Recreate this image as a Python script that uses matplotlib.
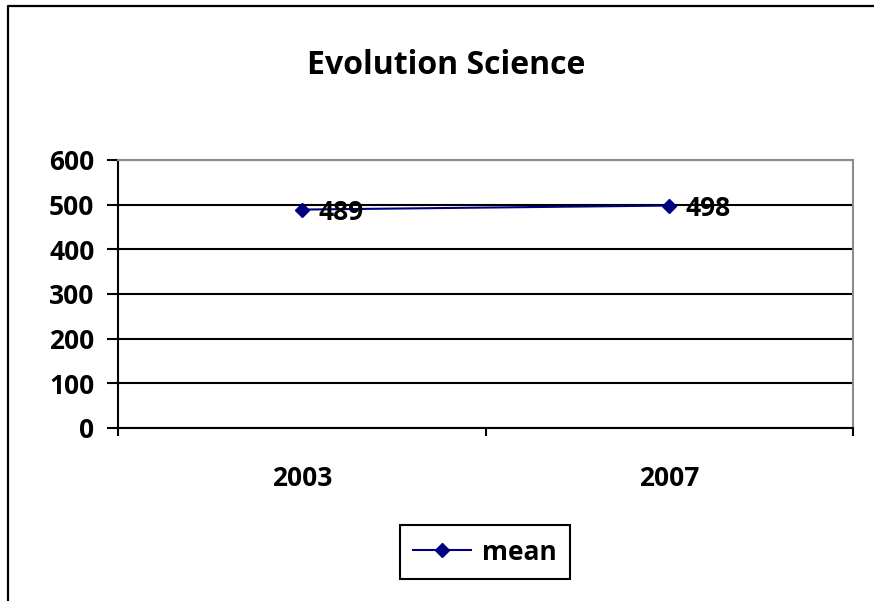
import matplotlib
matplotlib.use("Agg")
import matplotlib.pyplot as plt
from matplotlib.lines import Line2D

plt.rcParams['font.family'] = ['Open Sans', 'DejaVu Sans']

years = ["2003", "2007"]
mean_scores = [489, 498]
y_ticks = [0, 100, 200, 300, 400, 500, 600]

W, H = 874, 601
fig = plt.figure(figsize=(W / 100, H / 100), dpi=100)

# plot area in pixel terms
left, right, top, bottom = 118, 853, 160, 428
ax = fig.add_axes([left / W, 1 - bottom / H, (right - left) / W, (bottom - top) / H])

x = list(range(len(years)))
ax.plot(x, mean_scores, color="#000080", lw=1.5, marker="D", markersize=7.5,
        markerfacecolor="#000080", markeredgecolor="#000080", label="mean", zorder=3)

for xi, v in zip(x, mean_scores):
    ax.annotate(str(v), (xi, v), xytext=(12, -2), textcoords="offset points",
                ha="left", va="center", fontsize=19, fontweight="bold", zorder=4)

ax.set_xlim(-0.5, len(years) - 0.5)
ax.set_ylim(0, 600)
ax.set_yticks(y_ticks)
ax.set_yticklabels([str(t) for t in y_ticks], fontsize=19, fontweight="bold")
ax.yaxis.grid(True, color="black", lw=1.5)
ax.set_axisbelow(True)

# category labels centred between boundary ticks
ax.set_xticks(x)
ax.set_xticklabels(years, fontsize=19, fontweight="bold")
ax.tick_params(axis="x", length=0, pad=27)
ax.set_xticks([-0.5, 0.5, 1.5], minor=True)
ax.tick_params(axis="x", which="minor", length=6, width=1.5, color="black", direction="out")
ax.tick_params(axis="y", length=8, width=1.5, color="black", direction="out", pad=9)

for side in ("left", "bottom"):
    ax.spines[side].set_color("black")
    ax.spines[side].set_linewidth(1.5)
for side in ("top", "right"):
    ax.spines[side].set_color("#8c8c8c")
    ax.spines[side].set_linewidth(1.5)

fig.text(446 / W, 1 - 65 / H, "Evolution Science", ha="center", va="center",
         fontsize=23, fontweight="bold")

leg = fig.legend(loc="center", bbox_to_anchor=(485 / W, 1 - 552 / H),
                 prop={"weight": "bold", "size": 19}, frameon=True, fancybox=False,
                 framealpha=1, handlelength=2.2, borderpad=0.5, handletextpad=0.4)
leg.get_frame().set_edgecolor("black")
leg.get_frame().set_linewidth(1.5)

# chart-area border (left and top edges)
fig.add_artist(Line2D([7.5 / W, 7.5 / W, 1], [0, 1 - 5.5 / H, 1 - 5.5 / H],
                      transform=fig.transFigure, color="black", lw=1.6))

fig.savefig("out.png", dpi=100)
